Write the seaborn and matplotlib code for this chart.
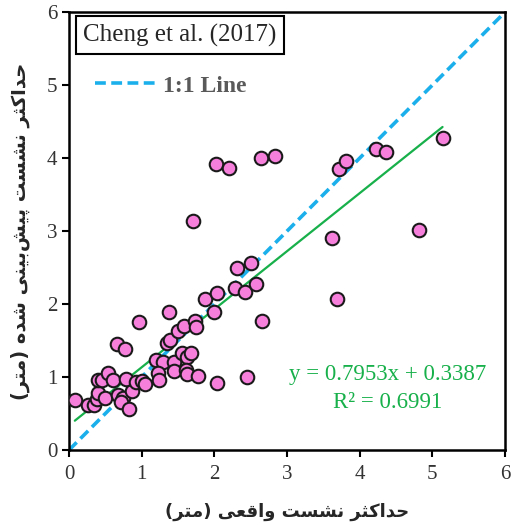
import numpy as np
import pandas as pd
import matplotlib
matplotlib.use('Agg')
import matplotlib.pyplot as plt
import seaborn as sns
from matplotlib.lines import Line2D

# Observed vs predicted settlement (m)
observed = [0.08, 0.26, 0.34, 0.38, 0.40, 0.40, 0.46, 0.53, 0.60, 0.49,
            0.67, 0.74, 0.72, 0.82, 0.87, 0.78, 0.92, 1.00, 1.05, 1.20,
            1.30, 1.23, 1.24, 1.35, 1.39, 1.45, 1.56, 1.63, 1.68, 1.45,
            1.61, 1.63, 1.78, 2.04, 2.45, 0.66, 0.77, 0.96, 1.37, 1.50,
            1.58, 1.73, 1.75, 1.87, 1.99, 2.04, 2.28, 2.42, 2.57, 2.31,
            2.51, 2.66, 1.71, 2.02, 2.20, 2.64, 2.83, 3.72, 3.81, 4.23,
            4.36, 5.14, 3.62, 4.82, 3.69]
predicted = [0.68, 0.62, 0.62, 0.70, 0.78, 0.96, 0.96, 1.05, 0.96, 0.71,
             0.75, 0.71, 0.66, 0.56, 0.81, 0.97, 0.93, 0.95, 0.90, 1.23,
             1.21, 1.05, 0.96, 1.47, 1.51, 1.21, 1.33, 1.27, 1.33, 1.08,
             1.10, 1.04, 1.01, 0.92, 1.00, 1.45, 1.38, 1.75, 1.89, 1.63,
             1.70, 1.77, 1.68, 2.07, 1.89, 2.15, 2.22, 2.16, 2.27, 2.49,
             2.56, 1.77, 3.14, 3.92, 3.86, 4.00, 4.03, 3.85, 3.96, 4.12,
             4.08, 4.27, 2.90, 3.01, 2.07]
fit_slope = 0.7953
fit_intercept = 0.3387
r_squared = 0.6991
axis_ticks = [0, 1, 2, 3, 4, 5, 6]

x_label = 'حداکثر نشست واقعی (متر)'
y_label = 'حداکثر نشست پیش‌بینی شده (متر)'
source_label = 'Cheng et al. (2017)'


# --- minimal Persian shaping (matplotlib has no complex text layout) ---
FORMS = {  # isolated, final, initial, medial
    'ح': (0xFEA1, 0xFEA2, 0xFEA3, 0xFEA4),
    'ک': (0xFB8E, 0xFB8F, 0xFB90, 0xFB91),
    'ث': (0xFE99, 0xFE9A, 0xFE9B, 0xFE9C),
    'ن': (0xFEE5, 0xFEE6, 0xFEE7, 0xFEE8),
    'ش': (0xFEB5, 0xFEB6, 0xFEB7, 0xFEB8),
    'س': (0xFEB1, 0xFEB2, 0xFEB3, 0xFEB4),
    'ت': (0xFE95, 0xFE96, 0xFE97, 0xFE98),
    'ق': (0xFED5, 0xFED6, 0xFED7, 0xFED8),
    'ع': (0xFEC9, 0xFECA, 0xFECB, 0xFECC),
    'ی': (0xFBFC, 0xFBFD, 0xFBFE, 0xFBFF),
    'م': (0xFEE1, 0xFEE2, 0xFEE3, 0xFEE4),
    'پ': (0xFB56, 0xFB57, 0xFB58, 0xFB59),
    'ب': (0xFE8F, 0xFE90, 0xFE91, 0xFE92),
    'ه': (0xFEE9, 0xFEEA, 0xFEEB, 0xFEEC),
    'د': (0xFEA9, 0xFEAA, None, None),
    'ا': (0xFE8D, 0xFE8E, None, None),
    'ر': (0xFEAD, 0xFEAE, None, None),
    'و': (0xFEED, 0xFEEE, None, None),
}


def dual(c):
    return c in FORMS and FORMS[c][2] is not None


def shape(text):
    out = []
    for i, c in enumerate(text):
        if c == '\u200c':
            continue
        if c not in FORMS:
            out.append(c)
            continue
        prev = text[i - 1] if i > 0 else ''
        nxt = text[i + 1] if i + 1 < len(text) else ''
        join_prev = dual(prev)
        join_next = dual(c) and nxt in FORMS
        if join_prev and join_next:
            code = FORMS[c][3]
        elif join_prev:
            code = FORMS[c][1]
        elif join_next:
            code = FORMS[c][2]
        else:
            code = FORMS[c][0]
        out.append(chr(code))
    vis = ''.join(reversed(out))
    return vis.translate(str.maketrans('()', ')('))


df = pd.DataFrame({'observed': observed, 'predicted': predicted})

sns.set_style('ticks')
plt.rcParams['font.family'] = ['Liberation Serif', 'DejaVu Sans']

fig = plt.figure(figsize=(5.13, 5.27), dpi=100)
ax = fig.add_axes([0.1345, 0.146, 0.850, 0.831])

# 1:1 line
ax.plot(axis_ticks, axis_ticks, color='#1BB0EC', lw=2.6, dashes=(3, 1.5), zorder=1)

# fitted regression line over the data range
fx = np.array([min(observed), max(observed)])
fit_df = pd.DataFrame({'x': fx, 'y': fit_slope * fx + fit_intercept})
sns.lineplot(data=fit_df, x='x', y='y', ax=ax, color='#17B04A', lw=1.6, zorder=2)

sns.scatterplot(data=df, x='observed', y='predicted', ax=ax, s=95,
                color='#F57FDB', edgecolor='#1a1a1a', linewidth=1.5, zorder=3)

ax.set_xlim(0, 6)
ax.set_ylim(0, 6)
ax.set_xticks(axis_ticks)
ax.set_yticks(axis_ticks)
ax.tick_params(axis='both', labelsize=15, width=1.5, length=5, direction='out',
               colors='black', labelcolor='#333333')
ax.tick_params(axis='x', pad=6)
for sp in ax.spines.values():
    sp.set_linewidth(1.8)
    sp.set_color('black')

ax.set_xlabel(shape(x_label), family=['DejaVu Sans'], fontweight='bold',
              fontsize=13, labelpad=13)
ax.set_ylabel(shape(y_label), family=['DejaVu Sans'], fontweight='bold',
              fontsize=14, labelpad=12)

# source box
ax.text(0.033, 0.947, source_label, transform=ax.transAxes, fontsize=18,
        va='center', ha='left',
        bbox=dict(boxstyle='square,pad=0.3', facecolor='white', edgecolor='black', lw=1.5))

# legend for the 1:1 line
handle = Line2D([], [], color='#1BB0EC', lw=2.6, dashes=(3, 1.5))
leg = ax.legend([handle], ['1:1 Line'], loc='upper left', bbox_to_anchor=(0.01, 0.905),
                frameon=False, handlelength=2.6, handletextpad=0.3,
                prop={'family': 'Liberation Serif', 'weight': 'bold', 'size': 17})
for t in leg.get_texts():
    t.set_color('#595959')

# regression equation
ax.text(0.73, 0.172, f'y = {fit_slope}x + {fit_intercept}', transform=ax.transAxes,
        color='#17B04A', fontsize=16.5, ha='center', va='center')
ax.text(0.73, 0.108, f'R² = {r_squared}', transform=ax.transAxes,
        color='#17B04A', fontsize=16.5, ha='center', va='center')

fig.savefig('out.png', dpi=100)
